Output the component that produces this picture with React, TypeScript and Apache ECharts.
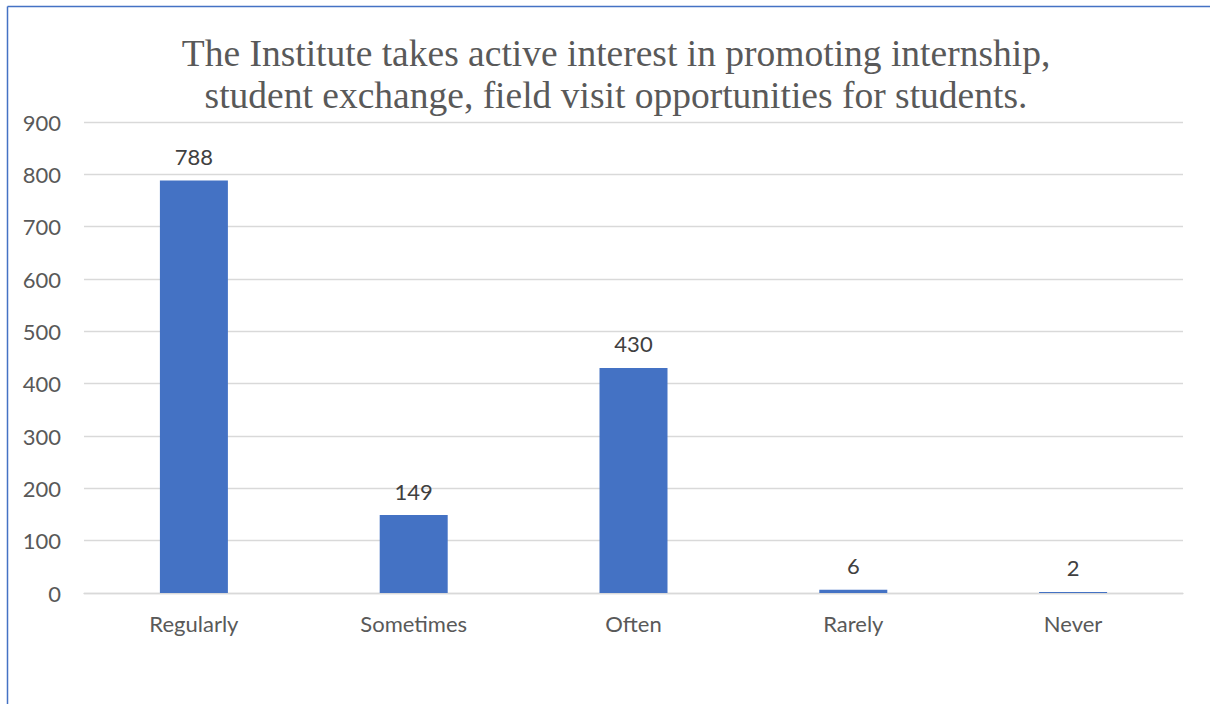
import React, { useEffect, useRef } from "react";
import * as echarts from "echarts";

const categories = ["Regularly", "Sometimes", "Often", "Rarely", "Never"];
const values = [788, 149, 430, 6, 2];
const titleLines = [
  "The Institute takes active interest in promoting internship,",
  "student exchange, field visit opportunities for students.",
];

export default function App() {
  const ref = useRef<HTMLDivElement>(null);
  useEffect(() => {
    if (!ref.current) return;
    const chart = echarts.init(ref.current, null, { renderer: "svg" });
    chart.setOption({
      animation: false,
      backgroundColor: "#ffffff",
      title: {
        text: titleLines.join("\n"),
        left: 611,
        top: 27,
        textAlign: "center",
        textStyle: {
          fontFamily: "Liberation Serif",
          fontSize: 37.5,
          fontWeight: "normal",
          color: "#595959",
          lineHeight: 42,
        },
      },
      graphic: [
        {
          type: "line",
          shape: { x1: 7.5, y1: 6.5, x2: 1210, y2: 6.5 },
          style: { stroke: "#4472C4", lineWidth: 1.5 },
        },
        {
          type: "line",
          shape: { x1: 7.5, y1: 6.5, x2: 7.5, y2: 704 },
          style: { stroke: "#4472C4", lineWidth: 1.5 },
        },
      ],
      grid: { left: 84, right: 27, top: 122, bottom: 111 },
      xAxis: {
        type: "category",
        data: categories,
        axisLine: { lineStyle: { color: "#D9D9D9", width: 1.3 } },
        axisTick: { show: false },
        axisLabel: {
          color: "#595959",
          fontFamily: "Lato",
          fontSize: 22,
          margin: 19,
        },
      },
      yAxis: {
        type: "value",
        min: 0,
        max: 900,
        interval: 100,
        axisLine: { show: false },
        axisTick: { show: false },
        splitLine: { lineStyle: { color: "#D9D9D9", width: 1.3 } },
        axisLabel: {
          color: "#595959",
          fontFamily: "Lato",
          fontSize: 22,
          margin: 23,
        },
      },
      series: [
        {
          type: "bar",
          data: values,
          barWidth: 68,
          itemStyle: { color: "#4472C4" },
          label: {
            show: true,
            position: "top",
            distance: 13,
            color: "#404040",
            fontFamily: "Lato",
            fontSize: 22,
          },
        },
      ],
    });
    return () => chart.dispose();
  }, []);
  return (
    <div
      ref={ref}
      style={{ position: "absolute", left: 0, top: 0, width: 1210, height: 704 }}
    />
  );
}
